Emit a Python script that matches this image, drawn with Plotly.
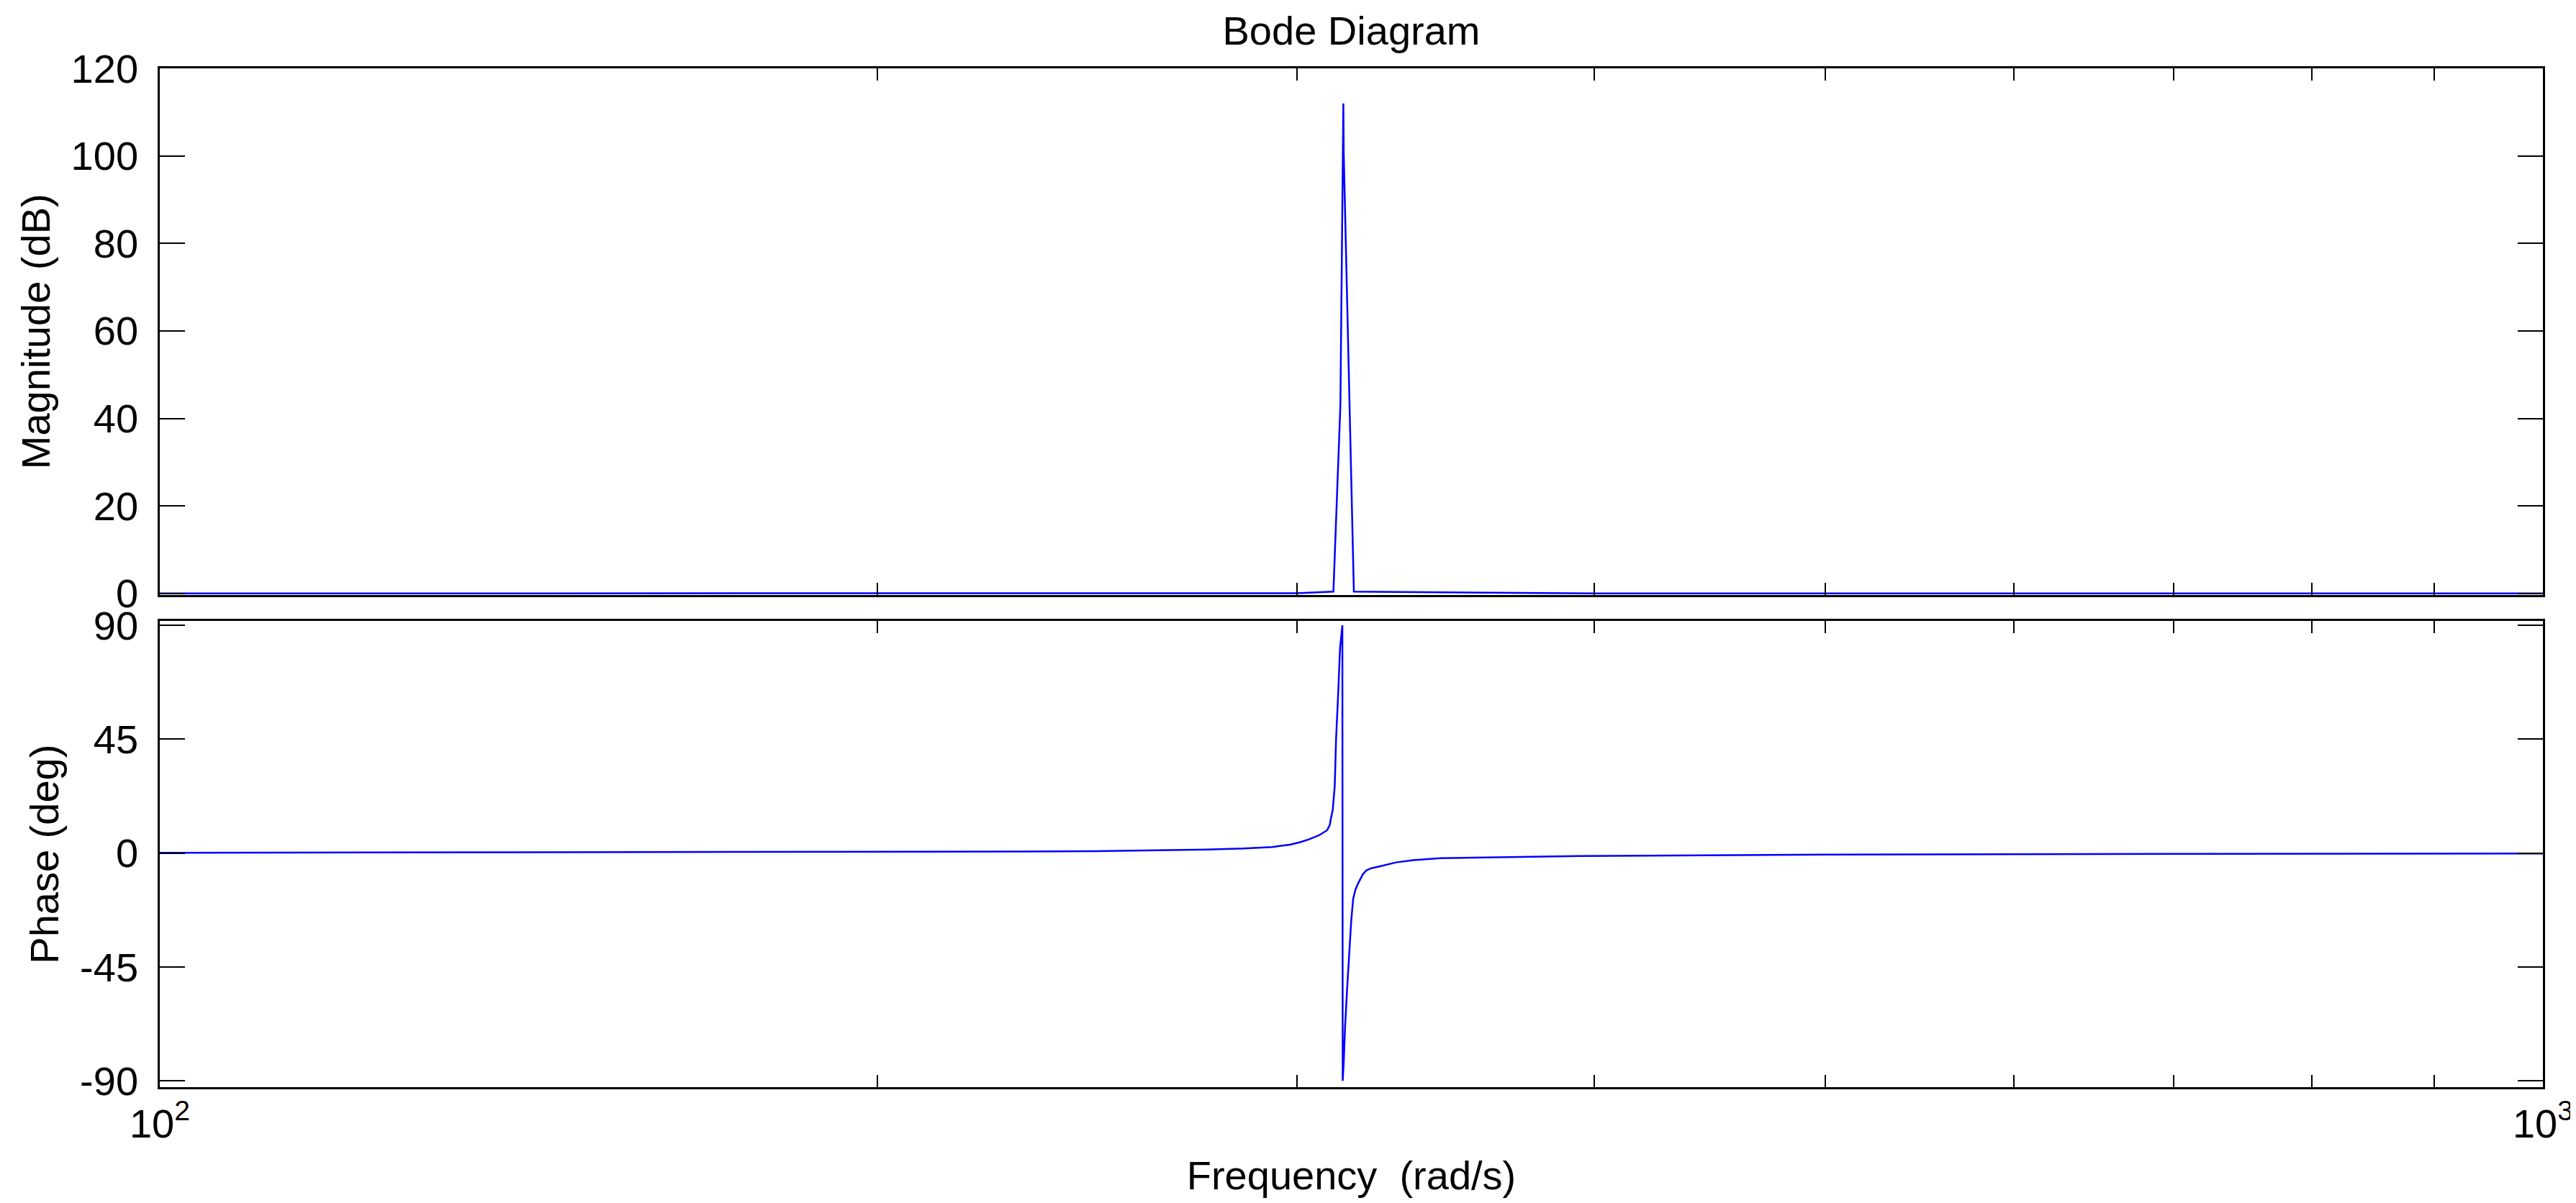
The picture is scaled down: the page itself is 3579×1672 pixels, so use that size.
#importando bibliotecas
import plotly.graph_objects as go
from plotly.subplots import make_subplots

freq_mag = [100, 200, 300, 310.8, 312.9, 313.8, 313.9, 317.0, 400, 1000]
mag_db = [0, 0, 0.05, 0.4, 43, 112, 101, 0.4, 0, 0]

freq_fase = [100, 150, 200, 230, 250, 265, 275, 285, 293, 298, 301, 303.5, 306.5,
             308.9, 309.7, 310.1, 310.6, 311.2, 311.6, 312.2, 312.8, 313.5,
             313.6, 313.9, 314.3, 314.9, 315.5, 316.2, 316.8, 317.5, 318.3, 319.0,
             319.8, 320.9, 322.4, 324.9, 327.5, 330.2, 335.7, 344.6, 394.2,
             500, 700, 1000]
fase_deg = [0.1, 0.25, 0.4, 0.6, 0.8, 1.1, 1.4, 1.8, 2.4, 3.3, 4.3, 5.4, 7.0,
            9.0, 11, 14, 17, 26.5, 45, 62, 81, 90,
            -90, -83, -69.3, -54.5, -41.2, -26.6, -18, -14.4, -12, -10.1,
            -8.3, -6.8, -6.0, -5.3, -4.5, -3.7, -2.8, -2.0, -1.2,
            -0.6, -0.3, -0.2]

#ticks
x_ticks = [100, 200, 300, 400, 500, 600, 700, 800, 900, 1000]
x_labels = ['10<sup>2</sup>', '', '', '', '', '', '', '', '', '10<sup>3</sup>']
mag_ticks = [0, 20, 40, 60, 80, 100, 120]
fase_ticks = [-90, -45, 0, 45, 90]
fase_labels = ['-90', '-45', '0', '45', '90']

fonte = dict(family='Liberation Sans, Arial, sans-serif', size=56, color='black')

#construindo o grafico
fig = make_subplots(rows=2, cols=1, vertical_spacing=0.026, row_heights=[0.5166, 0.4573])

fig.add_trace(go.Scatter(x=freq_mag, y=mag_db, mode='lines',
                         line=dict(color='#0000ff', width=2.5)), row=1, col=1)
fig.add_trace(go.Scatter(x=freq_fase, y=fase_deg, mode='lines',
                         line=dict(color='#0000ff', width=2.5)), row=2, col=1)

eixo = dict(showline=True, linecolor='black', linewidth=2.5, mirror='allticks',
            ticks='inside', tickcolor='black', tickwidth=2, showgrid=False,
            zeroline=False, tickfont=fonte)

fig.update_xaxes(type='log', range=[2, 3], tickmode='array', tickvals=x_ticks,
                 ticktext=x_labels, ticklen=17, **eixo)
fig.update_xaxes(showticklabels=False, row=1, col=1)
fig.update_xaxes(title=dict(text='Frequency\u00a0 (rad/s)', font=fonte, standoff=22),
                 row=2, col=1)

fig.update_yaxes(ticklen=35, ticklabelstandoff=16, **eixo)
fig.update_yaxes(range=[-0.3, 120], tickvals=mag_ticks,
                 title=dict(text='Magnitude (dB)', font=fonte, standoff=12), row=1, col=1)
fig.update_yaxes(range=[-92.5, 91.6], tickmode='array', tickvals=fase_ticks,
                 ticktext=fase_labels,
                 title=dict(text='Phase (deg)', font=fonte, standoff=12), row=2, col=1)

fig.update_layout(
    width=3579, height=1672,
    margin=dict(l=214, r=51, t=87, b=169),
    paper_bgcolor='white', plot_bgcolor='white',
    showlegend=False,
    font=fonte,
    title=dict(text='Bode Diagram', font=fonte, x=0.5, xref='paper',
               y=1 - 34 / 1672, yref='container', yanchor='middle'),
)

fig.write_html('out.html')
